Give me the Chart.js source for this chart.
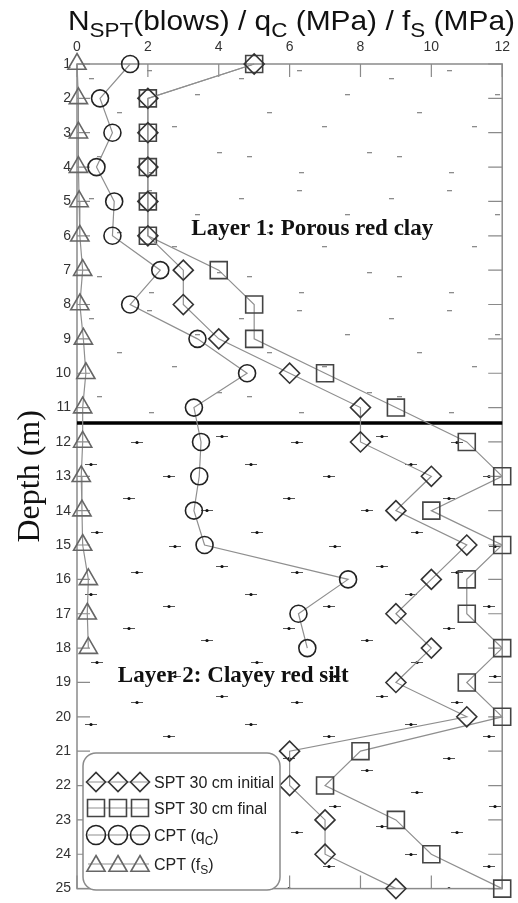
<!DOCTYPE html>
<html>
<head>
<meta charset="utf-8">
<script src="https://cdn.jsdelivr.net/npm/chart.js@4/dist/chart.umd.min.js"></script>
<style>
  body { margin: 0; background: #fff; }
  canvas { display: block; }
</style>
</head>
<body>
<canvas id="profile" width="518" height="903"></canvas>
<script>
// depth profile: SPT blow counts and CPT readings
const depths = [1, 2, 3, 4, 5, 6, 7, 8, 9, 10, 11, 12, 13, 14, 15, 16, 17, 18, 19, 20, 21, 22, 23, 24, 25];
const sptInitial = [5, 2, 2, 2, 2, 2, 3, 3, 4, 6, 8, 8, 10, 9, 11, 10, 9, 10, 9, 11, 6, 6, 7, 7, 9];
const sptFinal = [5, 2, 2, 2, 2, 2, 4, 5, 5, 7, 9, 11, 12, 10, 12, 11, 11, 12, 11, 12, 8, 7, 9, 10, 12];
const cptQc = [1.5, 0.65, 1.0, 0.55, 1.05, 1.0, 2.35, 1.5, 3.4, 4.8, 3.3, 3.5, 3.45, 3.3, 3.6, 7.65, 6.25, 6.5];
const cptFs = [0, 0.04, 0.04, 0.04, 0.06, 0.08, 0.16, 0.08, 0.18, 0.25, 0.16, 0.16, 0.12, 0.14, 0.16, 0.32, 0.29, 0.32];
const xTicks = [0, 2, 4, 6, 8, 10, 12];
const layerBoundary = 11.45;

const SANS = '"Liberation Sans", Arial, sans-serif';
const SERIF = '"Liberation Serif", "Times New Roman", serif';
const LINE_GREY = '#8f8f8f';
const FRAME_GREY = '#8a8a8a';

function toPoints(values) {
    return values.map((v, i) => ({ x: v, y: depths[i] }));
}

// marker styles shared between the chart and the hand-drawn legend
const series = [
    { label: 'SPT 30 cm initial', data: sptInitial, style: 'rectRot', radius: 10, color: '#333' },
    { label: 'SPT 30 cm final', data: sptFinal, style: 'rect', radius: 12, color: '#444' },
    { label: 'CPT (q', sub: 'C', data: cptQc, style: 'circle', radius: 8.5, color: '#222' },
    { label: 'CPT (f', sub: 'S', data: cptFs, style: 'triangle', radius: 10.5, color: '#666' }
];

// small repeating tiles used as soil hatching
function makeTile(w, h, spots, drawSpot) {
    const c = document.createElement('canvas');
    c.width = w;
    c.height = h;
    const g = c.getContext('2d');
    spots.forEach(p => drawSpot(g, p[0], p[1]));
    return c;
}

const clayTile = makeTile(150, 120,
    [[12, 14], [70, 6], [118, 30], [40, 48], [95, 62], [140, 88], [20, 92], [72, 108]],
    (g, x, y) => {
        g.fillStyle = '#8c8c8c';
        g.fillRect(x, y, 5, 1.3);
    });

const siltTile = makeTile(160, 130,
    [[14, 10], [92, 22], [52, 44], [130, 56], [20, 78], [98, 92], [60, 118], [145, 112]],
    (g, x, y) => {
        g.strokeStyle = '#555';
        g.lineWidth = 1;
        g.beginPath();
        g.moveTo(x - 6, y + 0.5);
        g.lineTo(x + 6, y + 0.5);
        g.stroke();
        g.fillStyle = '#111';
        g.beginPath();
        g.arc(x, y + 0.5, 1.6, 0, Math.PI * 2);
        g.fill();
    });

function drawMarker(ctx, style, x, y, r) {
    ctx.beginPath();
    if (style === 'rectRot') {
        ctx.moveTo(x - r, y);
        ctx.lineTo(x, y - r);
        ctx.lineTo(x + r, y);
        ctx.lineTo(x, y + r);
        ctx.closePath();
    } else if (style === 'rect') {
        const s = r * Math.SQRT1_2;
        ctx.rect(x - s, y - s, 2 * s, 2 * s);
    } else if (style === 'circle') {
        ctx.arc(x, y, r, 0, Math.PI * 2);
    } else {
        ctx.moveTo(x, y - r);
        ctx.lineTo(x + r * Math.sin(Math.PI / 3), y + r / 2);
        ctx.lineTo(x - r * Math.sin(Math.PI / 3), y + r / 2);
        ctx.closePath();
    }
    ctx.stroke();
}

// text made of pieces, some of them set as subscripts
function drawRich(ctx, parts, x, y, size, subSize, subDrop, width) {
    ctx.save();
    let total = 0;
    parts.forEach(p => {
        ctx.font = (p.sub ? subSize : size) + 'px ' + SANS;
        total += ctx.measureText(p.t).width;
    });
    ctx.translate(x, y);
    if (width) ctx.scale(width / total, 1);
    let cx = 0;
    ctx.textBaseline = 'alphabetic';
    ctx.textAlign = 'left';
    parts.forEach(p => {
        ctx.font = (p.sub ? subSize : size) + 'px ' + SANS;
        ctx.fillText(p.t, cx, p.sub ? subDrop : 0);
        cx += ctx.measureText(p.t).width;
    });
    ctx.restore();
}

const hatching = {
    id: 'hatching',
    beforeDatasetsDraw(chart) {
        const { ctx, chartArea: a, scales: { y } } = chart;
        const yb = y.getPixelForValue(layerBoundary);
        ctx.save();
        ctx.translate(a.left, a.top);
        ctx.fillStyle = ctx.createPattern(clayTile, 'repeat');
        ctx.fillRect(0, 0, a.right - a.left, yb - a.top);
        ctx.fillStyle = ctx.createPattern(siltTile, 'repeat');
        ctx.fillRect(0, yb - a.top, a.right - a.left, a.bottom - yb);
        ctx.restore();
    }
};

const frame = {
    id: 'frame',
    beforeDatasetsDraw(chart) {
        const { ctx, chartArea: a, scales: { x, y } } = chart;
        ctx.save();
        ctx.strokeStyle = FRAME_GREY;
        ctx.lineWidth = 1.5;
        ctx.strokeRect(a.left, a.top, a.right - a.left, a.bottom - a.top);
        ctx.lineWidth = 1.2;
        ctx.beginPath();
        xTicks.forEach(v => {
            const px = x.getPixelForValue(v);
            ctx.moveTo(px, a.top);
            ctx.lineTo(px, a.top + 13);
            ctx.moveTo(px, a.bottom);
            ctx.lineTo(px, a.bottom - 13);
        });
        depths.forEach(d => {
            const py = y.getPixelForValue(d);
            ctx.moveTo(a.left, py);
            ctx.lineTo(a.left + 13, py);
            ctx.moveTo(a.right, py);
            ctx.lineTo(a.right - 14, py);
        });
        ctx.stroke();

        // boundary between the two layers
        const yb = y.getPixelForValue(layerBoundary);
        ctx.strokeStyle = '#000';
        ctx.lineWidth = 3.5;
        ctx.beginPath();
        ctx.moveTo(a.left, yb);
        ctx.lineTo(a.right, yb);
        ctx.stroke();
        ctx.restore();
    }
};

const annotations = {
    id: 'annotations',
    afterDraw(chart) {
        const { ctx, chartArea: a, scales: { x, y } } = chart;
        ctx.save();
        ctx.fillStyle = '#111';

        // layer names
        ctx.font = 'bold 23px ' + SERIF;
        ctx.textAlign = 'center';
        ctx.textBaseline = 'middle';
        ctx.fillText('Layer 1: Porous red clay', x.getPixelForValue(6.64), y.getPixelForValue(5.8));
        ctx.fillText('Layer 2: Clayey red silt', x.getPixelForValue(4.41), y.getPixelForValue(18.8));

        // depth axis title
        ctx.save();
        ctx.translate(31, (a.top + a.bottom) / 2);
        ctx.rotate(-Math.PI / 2);
        ctx.font = '32px ' + SERIF;
        ctx.fillText('Depth (m)', 0, 0);
        ctx.restore();

        // top axis title
        drawRich(ctx, [
            { t: 'N' }, { t: 'SPT', sub: true }, { t: '(blows) / q' }, { t: 'C', sub: true },
            { t: ' (MPa) / f' }, { t: 'S', sub: true }, { t: ' (MPa)' }
        ], 68, 30, 28, 21, 7, 447);

        // legend box
        const lx = 83, ly = 753, lw = 197, lh = 137;
        ctx.fillStyle = '#fff';
        ctx.strokeStyle = FRAME_GREY;
        ctx.lineWidth = 1.5;
        ctx.beginPath();
        ctx.roundRect(lx, ly, lw, lh, 13);
        ctx.fill();
        ctx.stroke();

        const rows = [782, 808, 835, 864];
        series.forEach((s, i) => {
            const ry = rows[i];
            ctx.strokeStyle = LINE_GREY;
            ctx.lineWidth = 1.2;
            ctx.beginPath();
            ctx.moveTo(88, ry);
            ctx.lineTo(149, ry);
            ctx.stroke();
            ctx.strokeStyle = s.color;
            ctx.lineWidth = 1.6;
            const r = s.style === 'rect' ? 12 : (s.style === 'triangle' ? 10.5 : 9.5);
            [96, 118, 140].forEach(mx => drawMarker(ctx, s.style, mx, ry + (s.style === 'triangle' ? 2 : 0), r));
            ctx.fillStyle = '#222';
            const parts = [{ t: s.label }];
            if (s.sub) parts.push({ t: s.sub, sub: true }, { t: ')' });
            drawRich(ctx, parts, 154, ry + 6, 16, 12, 4);
        });
        ctx.restore();
    }
};

const ctx = document.getElementById('profile').getContext('2d');
new Chart(ctx, {
    type: 'scatter',
    data: {
        datasets: series.map(s => ({
            label: s.label,
            data: toPoints(s.data),
            showLine: true,
            clip: false,
            borderColor: LINE_GREY,
            borderWidth: 1.2,
            backgroundColor: 'rgba(0,0,0,0)',
            pointStyle: s.style,
            pointRadius: s.radius,
            pointHoverRadius: s.radius,
            pointBorderColor: s.color,
            pointBorderWidth: 1.6,
            pointBackgroundColor: 'rgba(0,0,0,0)'
        }))
    },
    options: {
        responsive: false,
        devicePixelRatio: 1,
        animation: false,
        layout: { padding: { left: 0, right: 11, top: 0, bottom: 8 } },
        plugins: { legend: { display: false }, tooltip: { enabled: false } },
        scales: {
            x: {
                type: 'linear',
                position: 'top',
                min: 0,
                max: 12,
                afterFit: scale => { scale.height = 64; },
                afterBuildTicks: scale => { scale.ticks = xTicks.map(v => ({ value: v })); },
                grid: { display: false, drawTicks: false },
                border: { display: false },
                ticks: { padding: 8, color: '#333', font: { family: SANS, size: 14 } }
            },
            y: {
                type: 'linear',
                reverse: true,
                min: 1,
                max: 25,
                afterFit: scale => { scale.width = 77; },
                afterBuildTicks: scale => { scale.ticks = depths.map(v => ({ value: v })); },
                grid: { display: false, drawTicks: false },
                border: { display: false },
                ticks: { padding: 6, color: '#333', font: { family: SANS, size: 14 } }
            }
        }
    },
    plugins: [hatching, frame, annotations]
});
</script>
</body>
</html>
